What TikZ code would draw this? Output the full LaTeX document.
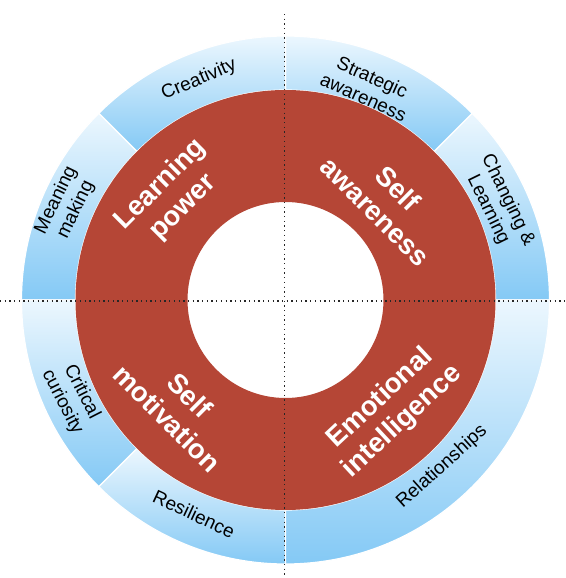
\documentclass[tikz,border=0pt]{standalone}
\usepackage{fontspec}
\setmainfont{Liberation Sans}
\definecolor{ringred}{RGB}{181,70,54}
\definecolor{bluedark}{RGB}{132,201,245}
\definecolor{bluelight}{RGB}{236,247,254}
\tikzset{
  seg/.style={top color=bluelight, bottom color=bluedark, draw=white, line width=1.2pt},
  outerlbl/.style={font=\fontsize{19}{22}\selectfont, align=center, text=black, inner sep=0pt},
  innerlbl/.style={font=\bfseries\fontsize{27.5}{32}\selectfont, align=center, text=white, inner sep=0pt},
  axisline/.style={dash pattern=on 1.3pt off 3.4pt, line width=1.3pt, black!85}
}
\newcommand{\ringseg}[2]{%
  \path[seg] (#1:210pt) -- (#1:264pt) arc[start angle=#1, end angle=#2, radius=264pt]
    -- (#2:210pt) arc[start angle=#2, end angle=#1, radius=210pt] -- cycle;}
\begin{document}
\begin{tikzpicture}
\useasboundingbox (-285.5pt,-278pt) rectangle (279.5pt,300pt);
% outer blue ring segments
\ringseg{0}{45}
\ringseg{45}{90}
\ringseg{90}{135}
\ringseg{135}{180}
\ringseg{180}{225}
\ringseg{225}{270}
\ringseg{270}{360}
% red ring
\fill[ringred, even odd rule] (0,0) circle[radius=210pt] (0,0) circle[radius=98pt];
% axes
\coordinate (vtop) at (-1pt,286pt);
\coordinate (vbot) at (-1pt,-278pt);
\coordinate (hleft) at (-285.5pt,-1pt);
\coordinate (hright) at (279.5pt,-1pt);
\draw[axisline] (vtop) -- (vbot);
\draw[axisline] (hleft) -- (hright);
% inner labels
\node[innerlbl, rotate=45] (lp) at (-113.5pt,104pt) {Learning\\power};
\node[innerlbl, rotate=-45] (sa) at (101pt,100pt) {Self\\awareness};
\node[innerlbl, rotate=-45] (sm) at (-107pt,-107pt) {Self\\motivation};
\node[innerlbl, rotate=43] (ei) at (106pt,-110pt) {Emotional\\intelligence};
% outer labels
\node[outerlbl, rotate=23] (cr) at (-86.5pt,220pt) {Creativity};
\node[outerlbl, rotate=-24] (st) at (82.5pt,213pt) {Strategic\\awareness};
\node[outerlbl, rotate=-64] (ch) at (212.5pt,95pt) {Changing \&\\Learning};
\node[outerlbl, rotate=64] (mm) at (-219.5pt,95pt) {Meaning\\making};
\node[outerlbl, rotate=-63] (cc) at (-213.5pt,-97pt) {Critical\\curiosity};
\node[outerlbl, rotate=-25] (re) at (-91.5pt,-214pt) {Resilience};
\node[outerlbl, rotate=42] (rl) at (156.5pt,-167pt) {Relationships};
\end{tikzpicture}
\end{document}
